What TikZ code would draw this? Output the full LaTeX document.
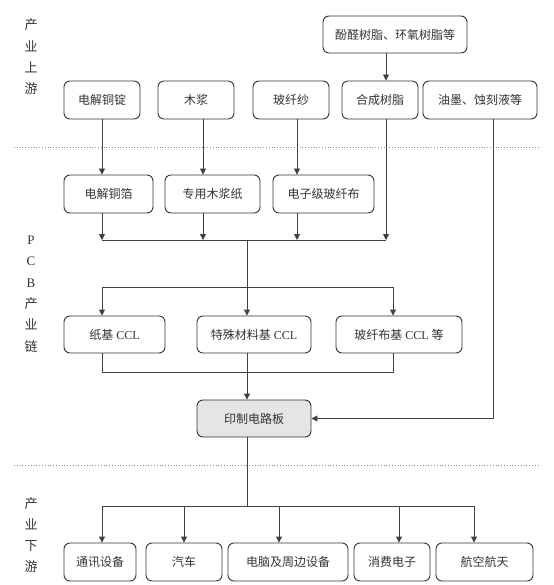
\documentclass[tikz,border=0pt]{standalone}
\usepackage{fontspec}
\setmainfont{Liberation Serif}
\newfontfamily\cjk{Noto Sans CJK SC}
\usetikzlibrary{arrows.meta}
\begin{document}
\begin{tikzpicture}[x=1pt,y=-1pt,
  box/.style={draw=black!80, line width=0.9pt, rounded corners=6pt, text=black!80,
    font=\fontsize{12}{14}\selectfont, inner sep=0pt, minimum height=37pt},
  ln/.style={draw=black!75, line width=0.9pt},
  arr/.style={ln, -{Triangle[length=6pt,width=6pt]}},
  sep/.style={draw=black!45, line width=0.8pt, dotted},
  side/.style={font=\cjk\fontsize{13}{21.3}\selectfont, align=center, text=black!80, inner sep=0pt}]
\useasboundingbox (0,0) rectangle (553,585);

% separators
\coordinate (sl1) at (14,147); \coordinate (sr1) at (538,147);
\coordinate (sl2) at (14,465); \coordinate (sr2) at (538,465);
\draw[sep] (sl1) -- (sr1);
\draw[sep] (sl2) -- (sr2);

% side labels
\node[side] (s1) at (31,57) {产\\业\\上\\游};
\node[side] (s2) at (31,294) {{\rmfamily P}\\{\rmfamily C}\\{\rmfamily B}\\产\\业\\链};
\node[side] (s3) at (31,535) {产\\业\\下\\游};

% column coordinates
\coordinate (xa) at (102,0);
\coordinate (xb) at (203,0);
\coordinate (xc) at (297,0);
\coordinate (xd) at (386,0);
\coordinate (xe) at (493,0);
\coordinate (xm) at (247,0);
\coordinate (xr) at (393,0);

% top
\node[box, minimum width=144pt] (top) at (395,34.5) {\cjk 酚醛树脂、环氧树脂等};

% row 1
\node[box, minimum width=76pt, minimum height=38pt] (a1) at (102,100) {\cjk 电解铜锭};
\node[box, minimum width=76pt, minimum height=38pt] (a2) at (196,100) {\cjk 木浆};
\node[box, minimum width=76pt, minimum height=38pt] (a3) at (291,100) {\cjk 玻纤纱};
\node[box, minimum width=76pt, minimum height=38pt] (a4) at (380,100) {\cjk 合成树脂};
\node[box, minimum width=114pt, minimum height=38pt] (a5) at (480,100) {\cjk 油墨、蚀刻液等};

% row 2
\node[box, minimum width=89pt, minimum height=38pt] (b1) at (108.5,194) {\cjk 电解铜箔};
\node[box, minimum width=95pt, minimum height=38pt] (b2) at (212.5,194) {\cjk 专用木浆纸};
\node[box, minimum width=101pt, minimum height=38pt] (b3) at (323.5,194) {\cjk 电子级玻纤布};

% row 3
\node[box, minimum width=101pt] (c1) at (114.5,334.5) {{\cjk 纸基} CCL};
\node[box, minimum width=114pt] (c2) at (254,334.5) {{\cjk 特殊材料基} CCL};
\node[box, minimum width=126pt] (c3) at (399,334.5) {{\cjk 玻纤布基} CCL {\cjk 等}};

% PCB
\node[box, minimum width=114pt, fill=black!10] (pcb) at (254,418.5) {\cjk 印制电路板};

% row 4
\node[box, minimum width=72pt, minimum height=38pt] (d1) at (100,562) {\cjk 通讯设备};
\node[box, minimum width=76pt, minimum height=38pt] (d2) at (184,562) {\cjk 汽车};
\node[box, minimum width=120pt, minimum height=38pt] (d3) at (288,562) {\cjk 电脑及周边设备};
\node[box, minimum width=76pt, minimum height=38pt] (d4) at (392,562) {\cjk 消费电子};
\node[box, minimum width=97pt, minimum height=38pt] (d5) at (484.5,562) {\cjk 航空航天};

% connectors: top -> a4
\draw[arr] (top.south -| xd) -- (a4.north -| xd);
% row1 -> row2
\draw[arr] (a1.south -| xa) -- (b1.north -| xa);
\draw[arr] (a2.south -| xb) -- (b2.north -| xb);
\draw[arr] (a3.south -| xc) -- (b3.north -| xc);

% collector 1
\coordinate (k1) at (102,240);
\coordinate (k1r) at (386,240);
\draw[ln] (k1) -- (k1r);
\draw[arr] (b1.south -| xa) -- (k1);
\draw[arr] (b2.south -| xb) -- (k1 -| xb);
\draw[arr] (b3.south -| xc) -- (k1 -| xc);
\draw[arr] (a4.south -| xd) -- (k1r);

% to row 3
\coordinate (k2) at (247,287);
\draw[ln] (k1 -| xm) -- (k2);
\draw[arr] (k2) -- (c2.north -| xm);
\draw[arr] (k2) -| (c1.north -| xa);
\draw[arr] (k2) -| (c3.north -| xr);

% collector 3
\coordinate (k3) at (247,372);
\draw[ln] (c1.south -| xa) |- (k3);
\draw[ln] (c3.south -| xr) |- (k3);
\draw[arr] (c2.south -| xm) -- (pcb.north -| xm);

% right feed
\draw[arr] (a5.south -| xe) |- (pcb.east);

% downstream
\coordinate (k4) at (247,506);
\draw[ln] (pcb.south -| xm) -- (k4);
\coordinate (y1) at (102,506);
\coordinate (y2) at (184,506);
\coordinate (y3) at (279,506);
\coordinate (y4) at (399,506);
\coordinate (y5) at (474,506);
\draw[ln] (y1) -- (y5);
\draw[arr] (y1) -- (d1.north -| y1);
\draw[arr] (y2) -- (d2.north -| y2);
\draw[arr] (y3) -- (d3.north -| y3);
\draw[arr] (y4) -- (d4.north -| y4);
\draw[arr] (y5) -- (d5.north -| y5);
\end{tikzpicture}
\end{document}
